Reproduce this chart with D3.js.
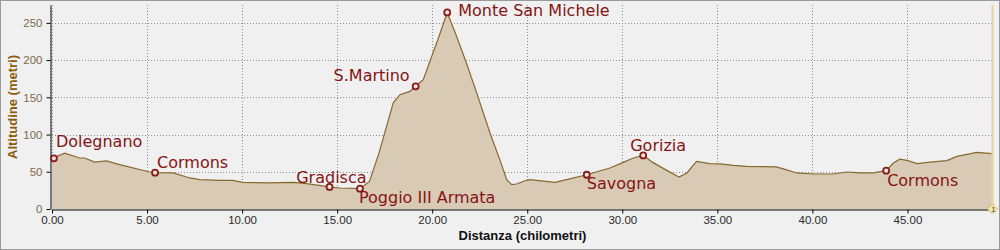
<!DOCTYPE html>
<html>
<head>
<meta charset="utf-8">
<script src="https://cdn.jsdelivr.net/npm/d3@7"></script>
<style>
  body { margin: 0; background: #f0f0f0; }
  #Profile-svg { display: block; }
  .grid line { stroke: #8c8c8c; stroke-dasharray: 1,2; }
  .waypoint-label { font-family: 'DejaVu Sans', sans-serif; font-size: 16px; fill: #861414; }
  .tick text { font-family: 'Liberation Sans', Arial, sans-serif; font-size: 11.5px; }
</style>
</head>
<body>
<div id="Profile-div"></div>
<script>
const WIDTH = 1000;
const HEIGHT = 250;
const MARGIN = { left: 52, right: 7, top: 5, bottom: 41 };

// profile: distance (km) and altitude (m)
const distances = [0, 0.67, 1.46, 1.72, 2.25, 2.86, 3.56, 5.14, 5.42, 6.37, 7.25, 7.77, 8.82, 9.5,
  10.05, 11.28, 12.68, 13.4, 14.6, 15.14, 16.2, 16.7, 17.2, 17.6, 17.95, 18.3, 18.83, 19.13,
  19.53, 19.88, 20.3, 20.79, 21.28, 21.8, 22.34, 23.04, 23.56, 23.92, 24.18, 24.44, 24.88,
  25.14, 26.46, 27.07, 28.13, 29.35, 30.05, 30.58, 31.1, 31.6, 32.34, 32.98, 33.4, 33.9, 34.6,
  35.14, 35.84, 36.55, 38.1, 38.47, 39.18, 40.05, 41.1, 41.8, 42.5, 43.2, 43.88, 44.26, 44.6,
  45.03, 45.5, 46.2, 47.07, 47.6, 48.65, 49.44];
const altitudes = [68, 75, 68.5, 68.5, 63, 64.5, 59.5, 49.7, 48.8, 48.4, 41.7, 39.4, 38.5, 38.5,
  35.8, 35, 35.8, 34, 29.6, 28.2, 27.3, 37, 75, 111, 142.5, 153.6, 158, 164.8,
  173.8, 198.4, 227.6, 264, 232, 196, 156, 102, 66, 39.4, 32.7, 33.6, 38,
  39.4, 35.8, 39.4, 46, 55, 62.6, 68.5, 72, 62.6, 51.9, 43, 48.4, 64, 61,
  60.5, 58.6, 57.3, 56.5, 53.8, 48.4, 47, 47, 49.7, 48.4, 48.4, 51.5, 61.8, 67,
  65, 61, 63, 65, 70.7, 76, 74.3];

// waypoints
const waypointNames = ['Dolegnano', 'Cormons', 'Gradisca', 'Poggio III Armata', 'S.Martino',
  'Monte San Michele', 'Savogna', 'Gorizia', 'Cormons'];
const waypointDist = [0.1, 5.42, 14.6, 16.2, 19.13, 20.79, 28.13, 31.1, 43.88];
const waypointAlt = [68, 48.8, 29.6, 27.3, 164.8, 264, 46, 72, 51.5];

// label placement relative to the marker (dx, dy, anchor)
const labelOffsets = [[2, -11, 'start'], [2, -5, 'start'], [37, -4, 'end'], [-1, 14, 'start'],
  [-6, -5, 'end'], [11, 4, 'start'], [0, 14, 'start'], [-13, -4, 'start'], [1, 15, 'start']];

const xTicks = [0, 5, 10, 15, 20, 25, 30, 35, 40, 45];
const yTicks = [0, 50, 100, 150, 200, 250];
const X_MAX = 49.5;
const Y_MAX = 274;

class Profile {
  constructor() {
    this.profile = distances.map((d, i) => [d, altitudes[i]]);
    this.waypoints = waypointNames.map((n, i) => ({
      name: n, dist: waypointDist[i], alt: waypointAlt[i], off: labelOffsets[i]
    }));

    this.xScale = d3.scaleLinear()
      .domain([0, X_MAX])
      .range([MARGIN.left, WIDTH - MARGIN.right]);

    this.yScale = d3.scaleLinear()
      .domain([0, Y_MAX])
      .range([HEIGHT - MARGIN.bottom, MARGIN.top]);

    this.svg = d3.select('#Profile-div')
      .append('svg')
      .attr('id', 'Profile-svg')
      .attr('width', WIDTH)
      .attr('height', HEIGHT);

    this.drawFrame();
    this.drawGrid();
    this.drawArea();
    this.drawAxes();
    this.drawCursor();
    this.drawWaypoints();
  }

  drawFrame() {
    this.svg.append('rect')
      .attr('x', 0.5).attr('y', 0.5)
      .attr('width', WIDTH - 1).attr('height', HEIGHT - 1)
      .attr('fill', '#f0f0f0')
      .attr('stroke', '#9a9a9a');
  }

  drawGrid() {
    const grid = this.svg.append('g').attr('class', 'grid');

    grid.selectAll('.vgrid')
      .data(xTicks)
      .join('line')
      .attr('x1', d => Math.round(this.xScale(d)) + 0.5)
      .attr('x2', d => Math.round(this.xScale(d)) + 0.5)
      .attr('y1', MARGIN.top)
      .attr('y2', HEIGHT - MARGIN.bottom);

    grid.selectAll('.hgrid')
      .data(yTicks.filter(d => d > 0))
      .join('line')
      .attr('x1', MARGIN.left)
      .attr('x2', WIDTH - MARGIN.right)
      .attr('y1', d => Math.round(this.yScale(d)) + 0.5)
      .attr('y2', d => Math.round(this.yScale(d)) + 0.5);
  }

  drawArea() {
    const area = d3.area()
      .x(d => this.xScale(d[0]))
      .y0(this.yScale(0))
      .y1(d => this.yScale(d[1]));

    const line = d3.line()
      .x(d => this.xScale(d[0]))
      .y(d => this.yScale(d[1]));

    this.svg.append('path')
      .datum(this.profile)
      .attr('d', area)
      .attr('fill', '#d8cab5');

    this.svg.append('path')
      .datum(this.profile)
      .attr('d', line)
      .attr('fill', 'none')
      .attr('stroke', '#86692d')
      .attr('stroke-width', 1.2);
  }

  drawAxes() {
    const xAxis = d3.axisBottom(this.xScale)
      .tickValues(xTicks)
      .tickFormat(d3.format('.2f'))
      .tickSize(4)
      .tickPadding(2)
      .tickSizeOuter(0);

    const yAxis = d3.axisLeft(this.yScale)
      .tickValues(yTicks)
      .tickSize(4)
      .tickPadding(4)
      .tickSizeOuter(0);

    const gx = this.svg.append('g')
      .attr('transform', `translate(0,${HEIGHT - MARGIN.bottom + 0.5})`)
      .call(xAxis);
    gx.select('.domain').attr('stroke', '#000');
    gx.selectAll('.tick text').attr('fill', '#2a2a2a');

    const gy = this.svg.append('g')
      .attr('transform', `translate(${MARGIN.left - 1.5},0)`)
      .call(yAxis);
    gy.select('.domain').attr('stroke', '#000');
    gy.selectAll('.tick text').attr('fill', '#7e6a4c');

    this.svg.append('text')
      .attr('x', (this.xScale.range()[0] + this.xScale.range()[1]) / 2)
      .attr('y', 240)
      .attr('text-anchor', 'middle')
      .attr('font-family', 'Liberation Sans, Arial, sans-serif')
      .attr('font-weight', 'bold')
      .attr('font-size', 13)
      .attr('fill', '#111')
      .text('Distanza (chilometri)');

    this.svg.append('text')
      .attr('transform', `translate(17,${(MARGIN.top + HEIGHT - MARGIN.bottom) / 2}) rotate(-90)`)
      .attr('text-anchor', 'middle')
      .attr('font-family', 'Liberation Sans, Arial, sans-serif')
      .attr('font-weight', 'bold')
      .attr('font-size', 13)
      .attr('fill', '#8c5c0c')
      .text('Altitudine (metri)');
  }

  drawCursor() {
    const cx = this.xScale(X_MAX) - 0.5;
    const by = this.yScale(0);

    this.svg.append('line')
      .attr('x1', cx).attr('x2', cx)
      .attr('y1', MARGIN.top).attr('y2', by)
      .attr('stroke', '#e6d39c')
      .attr('stroke-width', 2);

    this.svg.append('path')
      .attr('d', `M${cx},${by - 5} L${cx + 5},${by} L${cx},${by + 5} L${cx - 5},${by} Z`)
      .attr('fill', '#f6e9a6')
      .attr('stroke', '#c9b060')
      .attr('stroke-width', 0.8);

    this.svg.append('text')
      .attr('x', cx + 1).attr('y', by + 3)
      .attr('text-anchor', 'middle')
      .attr('font-family', 'Liberation Sans, Arial, sans-serif')
      .attr('font-size', 7)
      .attr('fill', '#333')
      .text('1');
  }

  drawWaypoints() {
    const g = this.svg.append('g').attr('id', 'waypoints');

    g.selectAll('circle')
      .data(this.waypoints)
      .join('circle')
      .attr('cx', d => this.xScale(d.dist))
      .attr('cy', d => this.yScale(d.alt))
      .attr('r', 3)
      .attr('fill', '#efe6dc')
      .attr('stroke', '#8b1a1a')
      .attr('stroke-width', 1.8);

    g.selectAll('text')
      .data(this.waypoints)
      .join('text')
      .attr('class', 'waypoint-label')
      .attr('x', d => this.xScale(d.dist) + d.off[0])
      .attr('y', d => this.yScale(d.alt) + d.off[1])
      .attr('text-anchor', d => d.off[2])
      .text(d => d.name);
  }
}

new Profile();
</script>
</body>
</html>
